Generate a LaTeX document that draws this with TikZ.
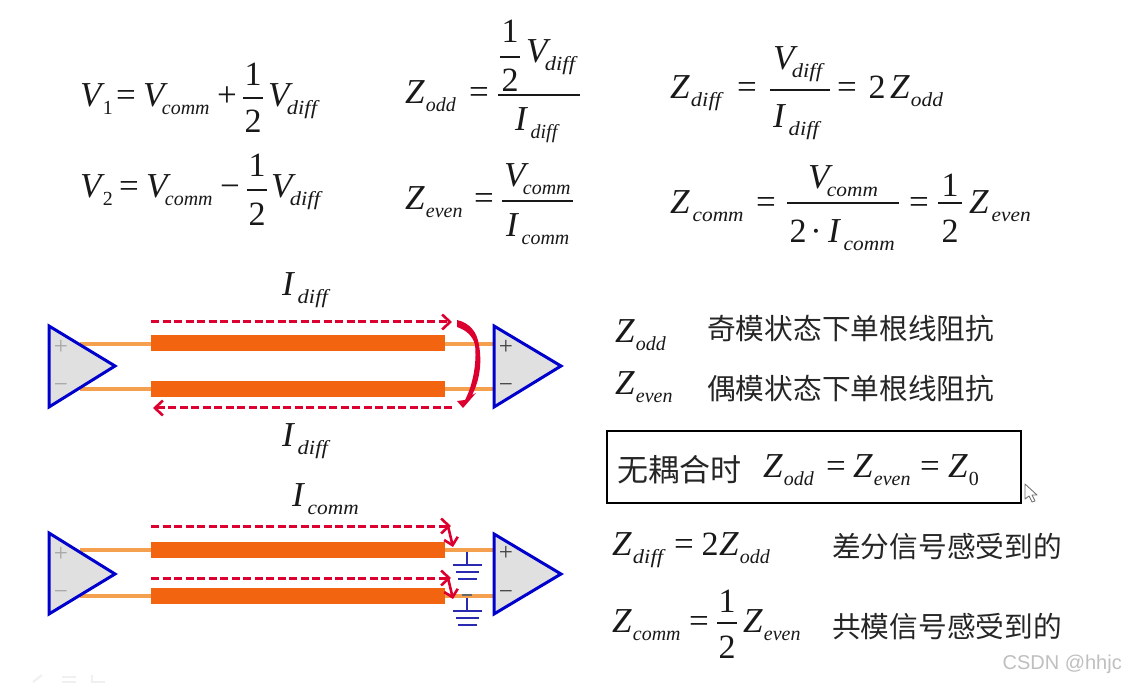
\documentclass[tikz,border=0pt]{standalone}
\usepackage{fontspec}
\usepackage{graphicx}
\usetikzlibrary{arrows.meta}
\setmainfont{Liberation Serif}
\newfontfamily\cjk{Noto Sans CJK SC}
\newfontfamily\wm{Liberation Sans}
\definecolor{barc}{HTML}{F2640F}
\definecolor{wirec}{HTML}{F4A04E}
\definecolor{bluec}{HTML}{0000CC}
\definecolor{redc}{HTML}{DC0030}
\definecolor{trifill}{HTML}{E0E0E0}
\definecolor{gndc}{HTML}{2A2AB0}
\newcommand\sbx[1]{\raisebox{-8pt}{\scalebox{.57}{\textit{#1}}}}
\newcommand\wide[1]{\scalebox{1.07}[1]{#1}}
\newcommand\dif{\scalebox{1.13}[1]{diff}}
\newcommand\sV[1]{\textit{V}\kern-6pt\sbx{#1}}
\newcommand\sVd[1]{\textit{V}\kern-2pt\sbx{\textup{#1}}}
\newcommand\sZ[1]{\textit{Z}\kern1pt\sbx{#1}}
\newcommand\sI[1]{\textit{I}\kern2.5pt\sbx{#1}}
\tikzset{
  x=1pt,y=-1pt,
  eqn/.style={anchor=base west,inner sep=0pt,font=\fontsize{35}{40}\selectfont,text=black!90},
  num/.style={anchor=base,inner sep=0pt,font=\fontsize{34}{40}\selectfont,text=black!90},
  fracrule/.style={draw=black!90,line width=1.4pt},
  zh/.style={anchor=west,inner sep=0pt,font=\cjk\fontsize{28.7}{32}\selectfont,text=black!85},
  bar/.style={fill=barc,minimum width=294pt,minimum height=16pt,inner sep=0pt,outer sep=0pt},
  wire/.style={draw=wirec,line width=4.2pt},
  tri/.style={draw=bluec,fill=trifill,line width=3pt,line join=miter},
  cur/.style={draw=redc,line width=3pt,dash pattern=on 8pt off 3.5pt,-{Straight Barb[length=8pt,width=15pt,line width=2.6pt]}},
  drop/.style={draw=redc,line width=2.6pt,-{Straight Barb[length=7pt,width=14pt,line width=2.6pt]}},
  gnd/.style={draw=gndc,line width=1.7pt},
  pm/.style={inner sep=0pt,font=\fontsize{25}{25}\selectfont},
}
\begin{document}
\begin{tikzpicture}
\useasboundingbox (0,0) rectangle (1125,684);
\fill[white] (0,0) rectangle (1125,684);
% V1
\node[eqn] (a1) at (80,107) {\sVd{1}};
\node[eqn] (a2) at (116,107) {=};
\node[eqn] (a3) at (143,107) {\sV{comm}};
\node[eqn] (a4) at (217,107) {+};
\node[num] (a5) at (253,86) {1};
\draw[fracrule] (243,98) -- (263,98);
\node[num] (a6) at (253,133) {2};
\node[eqn] (a7) at (268,107) {\sV{\dif}};
% V2
\node[eqn] (b1) at (80,198) {\sVd{2}};
\node[eqn] (b2) at (119,198) {=};
\node[eqn] (b3) at (146,198) {\sV{comm}};
\node[eqn] (b4) at (220,198) {−};
\node[num] (b5) at (257,177) {1};
\draw[fracrule] (247,190) -- (267,190);
\node[num] (b6) at (257,226) {2};
\node[eqn] (b7) at (271,198) {\sV{\dif}};
% Z odd
\node[eqn] (c1) at (405,104) {\sZ{odd}};
\node[eqn] (c2) at (469,104) {=};
\node[num] (c3) at (510,43) {1};
\draw[fracrule] (500,57) -- (520,57);
\node[num] (c4) at (510,92) {2};
\node[eqn] (c5) at (526,63) {\sV{\dif}};
\draw[fracrule] (498,95) -- (580,95);
\node[eqn] (c6) at (515,131) {\sI{diff}};
% Z even
\node[eqn] (d1) at (405,210) {\sZ{even}};
\node[eqn] (d2) at (474,210) {=};
\node[eqn] (d3) at (504,187) {\sV{comm}};
\draw[fracrule] (502,201) -- (573,201);
\node[eqn] (d4) at (506,237) {\sI{comm}};
% Z diff
\node[eqn] (e1) at (670,99) {\sZ{\dif}};
\node[eqn] (e2) at (737,99) {=};
\node[eqn] (e3) at (773,70) {\sV{\dif}};
\draw[fracrule] (770,90) -- (830,90);
\node[eqn] (e4) at (773,128) {\sI{\dif}};
\node[eqn] (e5) at (837,99) {=};
\node[num] (e6) at (877,99) {2};
\node[eqn] (e7) at (890,99) {\sZ{\wide{odd}}};
% Z comm
\node[eqn] (f1) at (670,214) {\sZ{\kern3pt\wide{comm}}};
\node[eqn] (f2) at (756,214) {=};
\node[eqn] (f3) at (808,189) {\sV{\wide{comm}}};
\draw[fracrule] (787,203) -- (899,203);
\node[num] (f4) at (798,243) {2};
\node[num] (f5) at (816,243) {·};
\node[eqn] (f6) at (828,243) {\sI{\wide{comm}}};
\node[eqn] (f7) at (909,214) {=};
\node[num] (f8) at (950,197) {1};
\draw[fracrule] (938,203) -- (962,203);
\node[num] (f9) at (950,243) {2};
\node[eqn] (f10) at (969,214) {\sZ{\kern3pt\wide{even}}};
% current labels
\node[eqn] (i1) at (282,296) {\sI{\dif}};
\node[eqn] (i2) at (282,447) {\sI{\dif}};
\node[eqn] (i3) at (292,507) {\sI{\wide{comm}}};
% upper pair
\node[bar] (bA) at (298,343) {};
\node[bar] (bB) at (298,389) {};
\coordinate (la1) at (80,344); \coordinate (la2) at (80,389);
\coordinate (ra1) at (494,344); \coordinate (ra2) at (494,389);
\draw[wire] (la1) -- (bA.west |- la1);
\draw[wire] (la2) -- (bB.west |- la2);
\draw[wire] (bA.east |- ra1) -- (ra1);
\draw[wire] (bB.east |- ra2) -- (ra2);
\draw[tri] (49,326) -- (115,366) -- (49,407) -- cycle;
\draw[tri] (494,326) -- (561,366) -- (494,407) -- cycle;
\node[pm,text=black!35] (lp1) at (61,347) {+};
\node[pm,text=black!35] (lm1) at (61,388) {−};
\node[pm,text=black!75] (rp1) at (506,347) {+};
\node[pm,text=black!75] (rm1) at (506,388) {−};
\coordinate (c1a) at (151,322); \coordinate (c1b) at (452,322);
\coordinate (c2a) at (452,408); \coordinate (c2b) at (153,408);
\draw[cur] (c1a) -- (c1b);
\draw[cur] (c2a) -- (c2b);
\fill[redc] (457,320) .. controls (470,323) and (477,332) .. (479,345)
  .. controls (482,362) and (480,380) .. (472,395) -- (476,393) -- (463,408) -- (457,401) -- (465,400)
  .. controls (473,385) and (477,362) .. (475,345) .. controls (473,336) and (466,330) .. (457,327) -- cycle;
% lower pair
\node[bar] (bC) at (298,550) {};
\node[bar] (bD) at (298,596) {};
\coordinate (la3) at (80,550); \coordinate (la4) at (80,596);
\coordinate (ra3) at (494,550); \coordinate (ra4) at (494,596);
\draw[wire] (la3) -- (bC.west |- la3);
\draw[wire] (la4) -- (bD.west |- la4);
\draw[wire] (bC.east |- ra3) -- (ra3);
\draw[wire] (bD.east |- ra4) -- (ra4);
\draw[tri] (49,533) -- (115,574) -- (49,614) -- cycle;
\draw[tri] (494,534) -- (561,574) -- (494,614) -- cycle;
\node[pm,text=black!35] (lp2) at (61,554) {+};
\node[pm,text=black!35] (lm2) at (61,595) {−};
\node[pm,text=black!75] (rp2) at (506,553) {+};
\node[pm,text=black!75] (rm2) at (506,595) {−};
\coordinate (c3a) at (151,526); \coordinate (c3b) at (451,526);
\coordinate (c4a) at (151,578); \coordinate (c4b) at (451,578);
\draw[cur] (c3a) -- (c3b);
\draw[cur] (c4a) -- (c4b);
\coordinate (d3) at (453,547); \coordinate (d4) at (453,599);
\draw[drop] (c3b) ++(-3,0) -- (d3);
\draw[drop] (c4b) ++(-3,0) -- (d4);
\draw[gnd] (467,552) -- (467,565);
\draw[gnd] (453,565) -- (482,565);
\draw[gnd] (456,572) -- (479,572);
\draw[gnd] (458,579) -- (477,579);
\draw[gnd] (467,598) -- (467,611);
\draw[gnd] (453,611) -- (482,611);
\draw[gnd] (456,618) -- (479,618);
\draw[gnd] (458,625) -- (477,625);
\draw[draw=black!60,line width=1.2pt] (462,595) -- (472,595);
% right column
\node[eqn] (g1) at (615,343) {\sZ{odd}};
\node[eqn] (g2) at (615,395) {\sZ{even}};
\node[zh] (t1) at (707,329) {奇模状态下单根线阻抗};
\node[zh] (t2) at (707,389) {偶模状态下单根线阻抗};
\node[draw=black,line width=2pt,minimum width=414pt,minimum height=71pt,inner sep=0pt] (bx) at (814,467) {};
\node[zh,font=\cjk\fontsize{31}{34}\selectfont] (t3) at (617,470) {无耦合时};
\node[eqn] (h1) at (763,478) {\sZ{odd}};
\node[eqn] (h2) at (826,478) {=};
\node[eqn] (h3) at (853,478) {\sZ{even}};
\node[eqn] (h4) at (920,478) {=};
\node[eqn] (h5) at (948,478) {\sZ{\textup{0}}};
\node[eqn] (j1) at (612,555) {\sZ{\dif}};
\node[eqn] (j2) at (674,555) {=};
\node[num] (j3) at (710,555) {2};
\node[eqn] (j4) at (719,555) {\sZ{odd}};
\node[zh] (t4) at (832,547) {差分信号感受到的};
\node[eqn] (k1) at (612,632) {\sZ{comm}};
\node[eqn] (k2) at (689,632) {=};
\node[num] (k3) at (727,612) {1};
\draw[fracrule] (717,623) -- (737,623);
\node[num] (k4) at (727,658) {2};
\node[eqn] (k5) at (743,632) {\sZ{even}};
\node[zh] (t5) at (832,627) {共模信号感受到的};
\node[anchor=east,inner sep=0pt,text=black!25,font=\wm\fontsize{20}{22}\selectfont] (w) at (1122,664) {CSDN @hhjc};
% cursor
\draw[black!55,fill=white,line width=.9pt,line join=round] (1025,484) -- (1025,499) -- (1029,496) -- (1032,502) -- (1035,501) -- (1032,495) -- (1037,495) -- cycle;
% faint toolbar marks
\draw[black!6,line width=2pt] (33,682) -- (42,675);
\draw[black!6,line width=2pt] (62,677) -- (76,677) (62,682) -- (76,682);
\draw[black!6,line width=2pt] (92,675) -- (92,682) -- (105,682);
\end{tikzpicture}
\end{document}
